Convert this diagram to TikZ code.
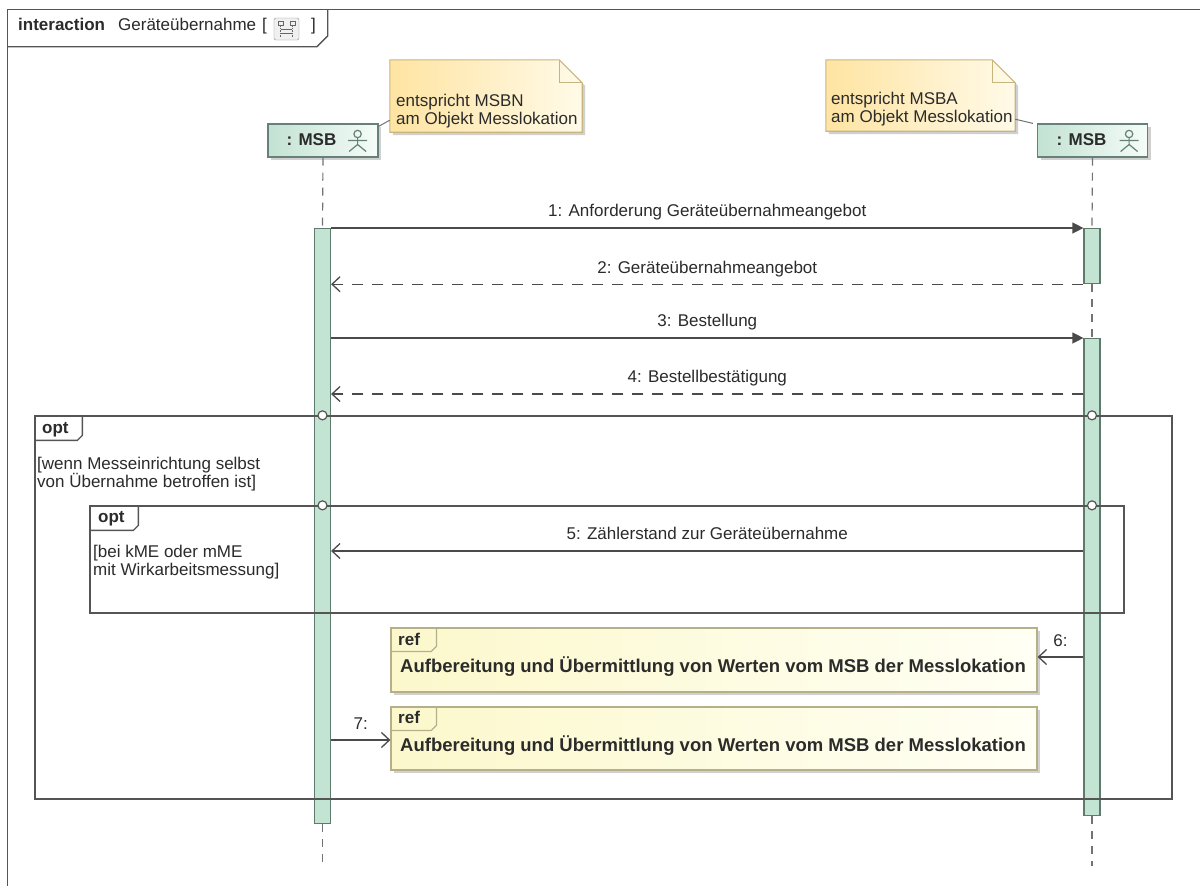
\documentclass[tikz,border=0pt]{standalone}
\usepackage{fontspec}
\setmainfont{Liberation Sans}
\usetikzlibrary{arrows.meta,shadows}
\definecolor{ink}{HTML}{2B2B2B}
\definecolor{frameline}{HTML}{555555}
\definecolor{msgline}{HTML}{4A4A4A}
\definecolor{actfill}{HTML}{C3E4D3}
\definecolor{actline}{HTML}{5E7A6D}
\definecolor{headL}{HTML}{C2E2D2}
\definecolor{headR}{HTML}{F6FCF9}
\definecolor{headline}{HTML}{66807A}
\definecolor{noteL}{HTML}{FFE4A2}
\definecolor{noteR}{HTML}{FFFAE8}
\definecolor{noteline}{HTML}{C8B57E}
\definecolor{refL}{HTML}{FCF8CC}
\definecolor{refR}{HTML}{FFFFF4}
\definecolor{refline}{HTML}{B5B08A}
\begin{document}
\begin{tikzpicture}[x=1pt,y=-1pt,
  lbl/.style={font=\fontsize{17}{19}\selectfont, text=ink, inner sep=0pt, text height=12.5pt, text depth=3.5pt},
  boldlbl/.style={lbl, font=\fontsize{17}{19}\selectfont\bfseries},
  reflbl/.style={lbl, font=\fontsize{18.5}{20}\selectfont\bfseries},
  multilbl/.style={font=\fontsize{17}{18.5}\selectfont, text=ink, inner sep=0pt, align=left},
  frameln/.style={draw=frameline, line width=1.3pt},
  lifeline/.style={draw=black!55, line width=1.2pt, dash pattern=on 8pt off 7pt},
  actbar/.style={draw=actline, fill=actfill, line width=1.2pt, minimum width=16pt, inner sep=0pt, anchor=north},
  sync/.style={draw=msgline, line width=1.3pt, -{Triangle[length=11pt,width=11pt]}},
  reply/.style={draw=msgline, line width=1.3pt, dash pattern=on 11pt off 9pt, -{Straight Barb[length=8pt,width=15pt]}},
  async/.style={draw=msgline, line width=1.3pt, -{Straight Barb[length=8pt,width=15pt]}},
  headbox/.style={draw=headline, line width=1.2pt, left color=headL, right color=headR, minimum width=110pt, minimum height=33pt, inner sep=0pt,
     drop shadow={shadow xshift=3pt, shadow yshift=-3pt, fill=black!30, opacity=0.6}},
  notebg/.style={draw=noteline, line width=1.1pt, left color=noteL, right color=noteR,
     drop shadow={shadow xshift=3pt, shadow yshift=-3pt, fill=black!30, opacity=0.6}},
  refbox/.style={draw=refline, line width=1.2pt, left color=refL, right color=refR, inner sep=0pt,
     drop shadow={shadow xshift=3pt, shadow yshift=-3pt, fill=black!30, opacity=0.6}},
  framebox/.style={frameln, inner sep=0pt},
  hole/.style={circle, draw=frameline, fill=white, line width=1.2pt, minimum size=9pt, inner sep=0pt},
  ghost/.style={inner sep=0pt},
  actor/.pic={\draw[draw=headline, line width=1.2pt] (0,-6.5) circle (3.7pt) (0,-2.8) -- (0,4) (-9.5,0) -- (9.5,0) (-8.5,11) -- (0,4) -- (8.5,11);}
]
\clip (0,0) rectangle (1200,886);
\fill[white] (0,0) rectangle (1200,886);

% outer interaction frame
\node[ghost, minimum width=1212pt, minimum height=895pt] (frame) at (614,457.5) {};
\draw[frameln] (frame.south west) -- (frame.north west) -- (frame.north east);
\draw[frameln] ([yshift=-37pt]frame.north west) -- ++(309,0) -- ++(11,-11) -- ++(0,-26);
\node[boldlbl, anchor=west] (tA) at (18,26) {interaction};
\node[lbl, anchor=west] (tB) at (118,26) {Geräteübernahme};
\node[lbl, anchor=west] (tC) at (262,26) {[};
\node[draw=black!45, fill=black!6, rounded corners=2pt, minimum width=25pt, minimum height=22pt, inner sep=0pt] (icon) at (286.5,29) {};
\draw[black!60, line width=0.8pt] (278,21) rectangle (283,25) (290,21) rectangle (295,25);
\draw[black!60, line width=0.8pt, dash pattern=on 1.5pt off 1pt] (280.5,25) -- (280.5,37) (292.5,25) -- (292.5,37);
\draw[black!60, line width=0.8pt] (281,29) -- (292,29) (281,33) -- (292,33);
\node[lbl, anchor=west] (tD) at (311,26) {]};

% notes
\node[ghost, minimum width=192pt, minimum height=72pt] (note1) at (486,96) {};
\path[notebg] (note1.north west) -- ([xshift=-23pt]note1.north east) -- ([yshift=-23pt]note1.north east) -- (note1.south east) -- (note1.south west) -- cycle;
\draw[noteline, line width=1.1pt] ([xshift=-23pt]note1.north east) -- ++(0,23) -- ++(23,0);
\node[multilbl, anchor=west] (n1t) at (396,111) {entspricht MSBN\\am Objekt Messlokation};

\node[ghost, minimum width=189pt, minimum height=71pt] (note2) at (920.5,95.5) {};
\path[notebg] (note2.north west) -- ([xshift=-23pt]note2.north east) -- ([yshift=-23pt]note2.north east) -- (note2.south east) -- (note2.south west) -- cycle;
\draw[noteline, line width=1.1pt] ([xshift=-23pt]note2.north east) -- ++(0,23) -- ++(23,0);
\node[multilbl, anchor=west] (n2t) at (831,109) {entspricht MSBA\\am Objekt Messlokation};

% lifeline heads
\node[headbox] (headL) at (323,140.5) {};
\node[boldlbl] (headLt) at ([xshift=-11.5pt]headL.center) {: MSB};
\pic at ([xshift=-21pt]headL.east) {actor};
\node[headbox] (headR) at (1092.5,140.5) {};
\node[boldlbl] (headRt) at ([xshift=-11pt]headR.center) {: MSB};
\pic at ([xshift=-19pt]headR.east) {actor};

\draw[black!55, line width=1pt] ([yshift=12pt]note1.south west) -- ([yshift=-3pt]headL.north east);
\draw[black!55, line width=1pt] ([yshift=12pt]note2.south east) -- ([xshift=-4pt]headR.north west);

% activations
\node[actbar, minimum height=595pt] (actL) at (322.5,228) {};
\node[actbar, minimum height=55pt] (actR1) at (1092,228) {};
\node[actbar, minimum height=477pt] (actR2) at (1092,338) {};
\coordinate (endL) at (322.5,866);
\coordinate (endR) at (1092,866);

% lifelines
\draw[lifeline] (headL.south) -- (actL.north);
\draw[lifeline] (actL.south) -- (endL);
\draw[lifeline] (headR.south) -- (actR1.north);
\draw[lifeline] (actR1.south) -- (actR2.north);
\draw[lifeline] (actR2.south) -- (endR);

% messages 1-4
\coordinate (y4) at (0,394);
\draw[sync] (actL.north east) -- node[lbl, above=7pt] {1: Anforderung Geräteübernahmeangebot} (actR1.north west);
\draw[reply] (actR1.south west) -- node[lbl, above=7pt] {2: Geräteübernahmeangebot} (actL.east |- actR1.south);
\draw[sync] (actL.east |- actR2.north) -- node[lbl, above=7pt] {3: Bestellung} (actR2.north west);
\draw[reply] (actR2.west |- y4) -- node[lbl, above=7pt] {4: Bestellbestätigung} (actL.east |- y4);

% opt frames
\node[framebox, minimum width=1137pt, minimum height=383pt] (opt1) at (603.5,607.5) {};
\draw[frameln] ([yshift=-25pt]opt1.north west) -- ++(43,0) -- ++(5,-5) -- ++(0,-20);
\node[boldlbl, anchor=west] (opt1t) at (42,429) {opt};
\node[multilbl, anchor=west] (g1) at (37,474) {[wenn Messeinrichtung selbst\\von Übernahme betroffen ist]};

\node[framebox, minimum width=1034pt, minimum height=107pt] (opt2) at (607,559.5) {};
\draw[frameln] ([yshift=-25pt]opt2.north west) -- ++(44,0) -- ++(5,-5) -- ++(0,-20);
\node[boldlbl, anchor=west] (opt2t) at (98,518) {opt};
\node[multilbl, anchor=west] (g2) at (93,562) {[bei kME oder mME\\mit Wirkarbeitsmessung]};

\node[hole] (c1) at (actL.center |- opt1.north) {};
\node[hole] (c2) at (actR2.center |- opt1.north) {};
\node[hole] (c3) at (actL.center |- opt2.north) {};
\node[hole] (c4) at (actR2.center |- opt2.north) {};

% message 5
\coordinate (y5) at (0,551);
\draw[async] (actR2.west |- y5) -- node[lbl, above=7pt] {5: Zählerstand zur Geräteübernahme} (actL.east |- y5);

% interaction uses
\node[refbox, minimum width=646pt, minimum height=64pt] (ref1) at (714,660) {};
\draw[refline, line width=1.2pt] ([yshift=-24pt]ref1.north west) -- ++(41,0) -- ++(5,-5) -- ++(0,-19);
\node[boldlbl, anchor=west] (ref1t) at (398,641) {ref};
\node[reflbl, anchor=west] (ref1x) at (400,668) {Aufbereitung und Übermittlung von Werten vom MSB der Messlokation};

\node[refbox, minimum width=646pt, minimum height=63pt] (ref2) at (714,738.5) {};
\draw[refline, line width=1.2pt] ([yshift=-24pt]ref2.north west) -- ++(41,0) -- ++(5,-5) -- ++(0,-19);
\node[boldlbl, anchor=west] (ref2t) at (398,719) {ref};
\node[reflbl, anchor=west] (ref2x) at (400,747) {Aufbereitung und Übermittlung von Werten vom MSB der Messlokation};

% messages 6 and 7
\coordinate (y6) at (0,657);
\coordinate (y7) at (0,740);
\draw[async] (actR2.west |- y6) -- node[lbl, above=6pt] {6:} (ref1.east |- y6);
\draw[async] (actL.east |- y7) -- node[lbl, above=6pt] {7:} (ref2.west |- y7);
\end{tikzpicture}
\end{document}
